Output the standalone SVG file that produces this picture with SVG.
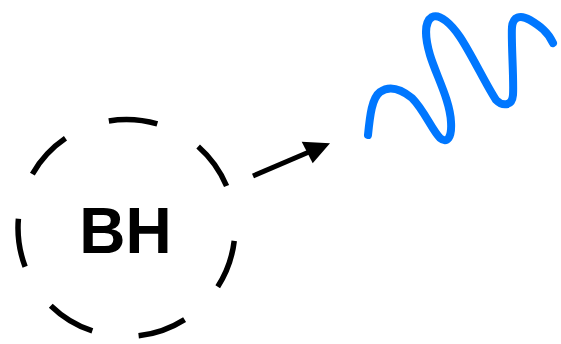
<svg xmlns="http://www.w3.org/2000/svg" width="561" height="344" viewBox="0 0 561 344">
  <style>
    .ring { fill: none; stroke: #000; stroke-width: 5.5; stroke-dasharray: 49 47; stroke-dashoffset: -13; }
    .label { font-family: "Liberation Sans", Arial, sans-serif; font-weight: bold; font-size: 64px; fill: #000; }
    .conn { stroke: #000; stroke-width: 5; fill: none; }
    .wave { fill: none; stroke: #0077FF; stroke-width: 8; stroke-linecap: round; stroke-linejoin: round; }
  </style>
  <rect width="561" height="344" fill="#fff"/>
  <g id="bh">
    <circle class="ring" cx="126.5" cy="228" r="108.5"/>
    <text class="label" x="125.5" y="253" text-anchor="middle">BH</text>
  </g>
  <g id="connectors">
    <line class="conn" x1="253" y1="176" x2="309" y2="152"/>
    <polygon points="301.7,141.7 330,143.3 312.7,163.3" fill="#000"/>
  </g>
  <g id="wave">
    <path class="wave" d="M368,135 C370,115 372,98 380,92 C390,85 402,90 412,98 C424,110 432,130 440,138 C447,144 452,138 451,122 C450,100 436,75 430,55 C425,38 424,22 432,17 C440,13 452,25 460,37 C472,55 486,85 496,100 C502,106 512,107 513,95 C514,80 511,40 512,27 C513,17 520,14 530,20 C540,26 548,32 553,43"/>
  </g>
</svg>
